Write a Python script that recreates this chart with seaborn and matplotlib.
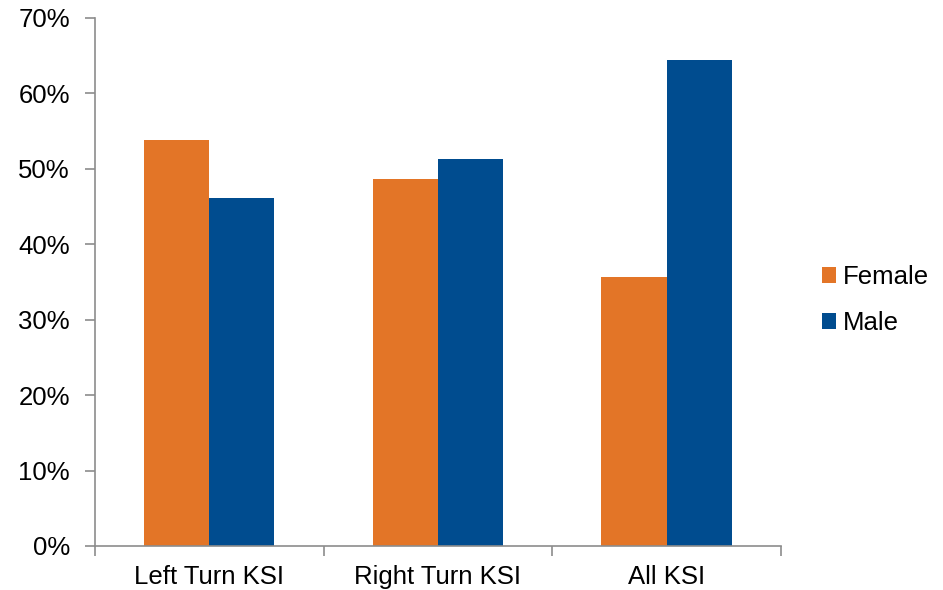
import pandas as pd
import matplotlib.pyplot as plt
import seaborn as sns
from matplotlib.ticker import PercentFormatter, FixedLocator

sns.set_style("white")
plt.rcParams['font.family'] = ['Liberation Sans', 'DejaVu Sans']
plt.rcParams['text.color'] = 'black'
plt.rcParams['xtick.color'] = 'black'
plt.rcParams['ytick.color'] = 'black'

# data
categories = ["Left Turn KSI", "Right Turn KSI", "All KSI"]
female = [0.538, 0.487, 0.356]
male = [0.462, 0.513, 0.644]

df = pd.DataFrame({
    "category": categories * 2,
    "share": female + male,
    "sex": ["Female"] * 3 + ["Male"] * 3,
})

colors = {"Female": "#E37527", "Male": "#004C8F"}

fig = plt.figure(figsize=(9.43, 5.9), dpi=100)
ax = fig.add_axes([0.1007, 0.0746, 0.7275, 0.8949])

sns.barplot(data=df, x="category", y="share", hue="sex", palette=colors,
            width=0.57, saturation=1, linewidth=0, ax=ax, legend=True)

ax.set_ylim(0, 0.7)
ax.set_xlim(-0.5, 2.5)
ax.yaxis.set_major_locator(FixedLocator([i / 10 for i in range(8)]))
ax.yaxis.set_major_formatter(PercentFormatter(1.0, decimals=0))
ax.set_xlabel("")
ax.set_ylabel("")

for s in ["top", "right"]:
    ax.spines[s].set_visible(False)
for s in ["left", "bottom"]:
    ax.spines[s].set_color("#8c8c8c")
    ax.spines[s].set_linewidth(1.2)

ax.tick_params(axis="y", left=True, length=7, width=1.2, color="#8c8c8c",
               labelcolor="black", labelsize=18.5, pad=11)
ax.tick_params(axis="x", bottom=False, labelcolor="black", labelsize=18.5,
               pad=10.5)
ax.set_xticks([-0.5, 0.5, 1.5, 2.5], minor=True)
ax.tick_params(axis="x", which="minor", bottom=True, length=7, width=1.2,
               color="#8c8c8c")

leg = ax.legend(loc="center left", bbox_to_anchor=(1.0, 0.466), frameon=False,
                fontsize=18.5, handlelength=0.55, handleheight=0.55,
                handletextpad=0.25, labelspacing=0.85, borderaxespad=1.2)
for t in leg.get_texts():
    t.set_color("black")

fig.savefig("out.png", dpi=100)
